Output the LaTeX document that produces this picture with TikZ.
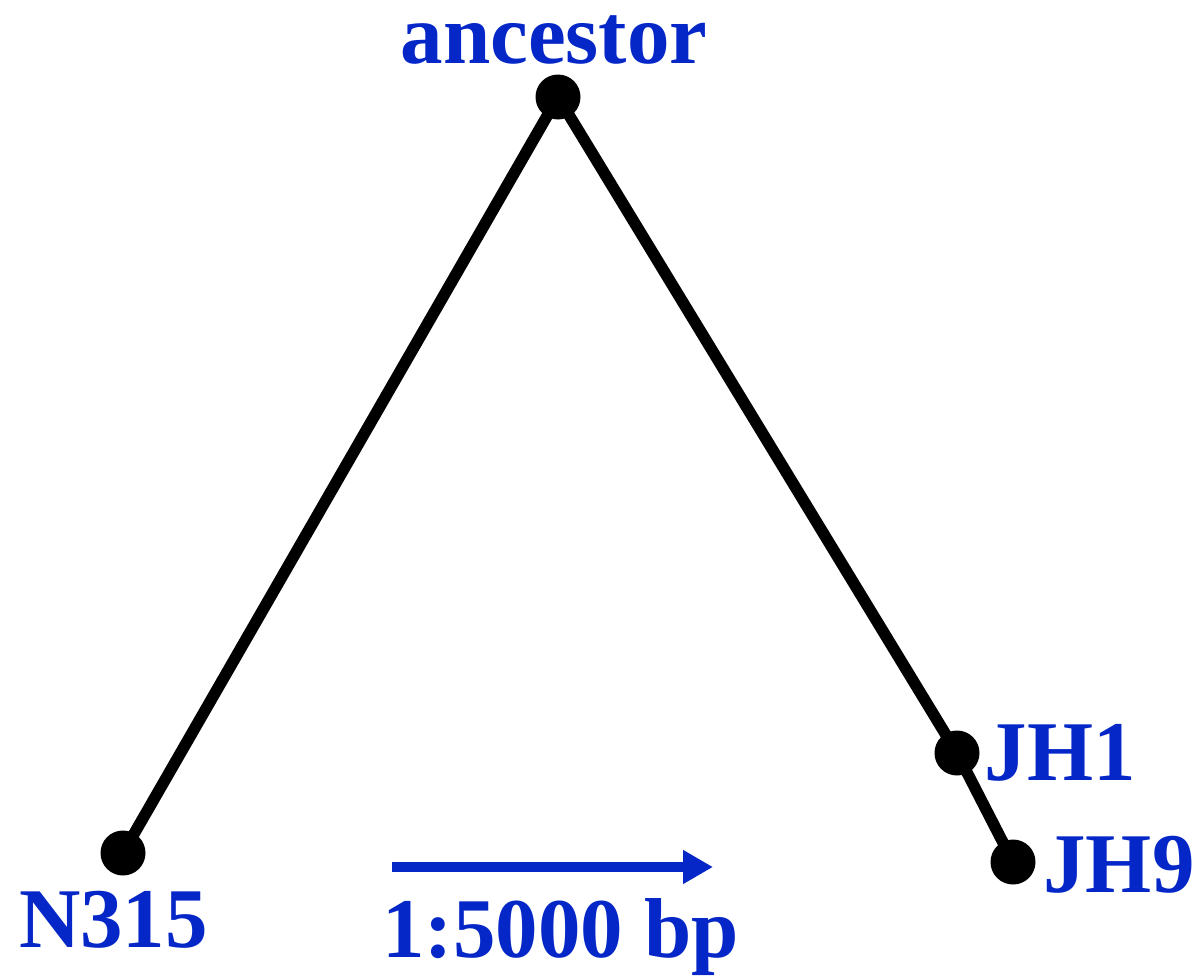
\documentclass[tikz,border=0pt]{standalone}
\usepackage{fontspec}
\setmainfont{Liberation Serif}
\usetikzlibrary{arrows.meta}
\definecolor{lblblue}{RGB}{6,39,200}
\begin{document}
\begin{tikzpicture}[x=1pt,y=-1pt,
  dot/.style={circle,fill=black,minimum size=45pt,inner sep=0pt},
  edge/.style={line width=11.5pt,draw=black},
  lbl/.style={anchor=base,inner sep=0pt,text=lblblue,font=\bfseries\fontsize{85}{90}\selectfont}]
\useasboundingbox (0,0) rectangle (1200,977);
\draw[edge] (558,97) coordinate (ca) -- (123,853) coordinate (cn);
\draw[edge] (ca) -- (957,753) coordinate (c1) -- (1013,862) coordinate (c9);
\node[dot] (anc) at (ca) {};
\node[dot] (n315) at (cn) {};
\node[dot] (jh1) at (c1) {};
\node[dot] (jh9) at (c9) {};
\node[lbl,text height=52pt] (tanc) at (554,63) {ancestor};
\node[lbl] (tn315) at (113.5,947) {N315};
\node[lbl] (tjh1) at (1060.5,780) {JH1};
\node[lbl] (tjh9) at (1119,892) {JH9};
\node[lbl] (tscale) at (560.5,957) {1:5000 bp};
\coordinate (as) at (392,867);
\coordinate (ae) at (713,867);
\draw[line width=10pt,draw=lblblue,-{Triangle[length=30pt,width=32pt]}] (as) -- (ae);
\end{tikzpicture}
\end{document}
